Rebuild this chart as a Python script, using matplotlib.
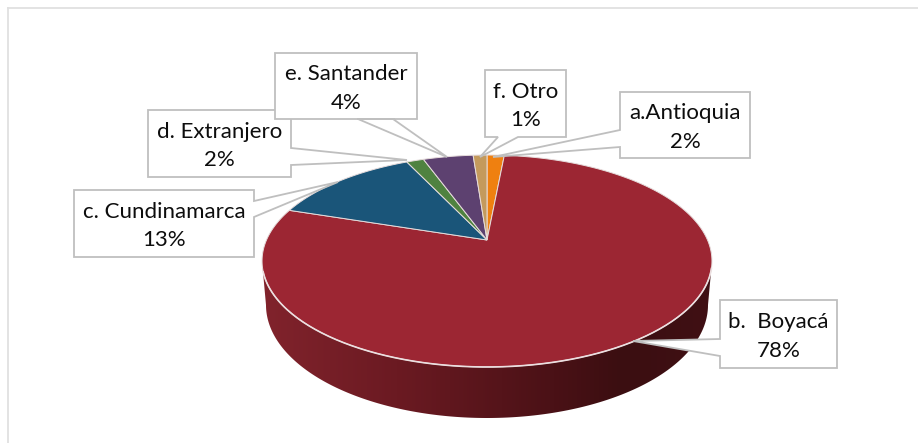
import numpy as np
import matplotlib
matplotlib.use("Agg")
import matplotlib.pyplot as plt
from matplotlib.patches import Polygon
from matplotlib.colors import LinearSegmentedColormap

# Datos
categorias = ["a.Antioquia", "b.  Boyacá", "c. Cundinamarca", "d. Extranjero", "e. Santander", "f. Otro"]
valores = [1.5, 78.5, 12.95, 1.5, 4.35, 1.2]
etiquetas_pct = ["2%", "78%", "13%", "2%", "4%", "1%"]
colores = ["#ef8010", "#9c2633", "#1a5579", "#4f8240", "#5d4170", "#c49a5c"]

plt.rcParams["font.family"] = ["Lato", "DejaVu Sans"]

fig = plt.figure(figsize=(9.18, 4.43), dpi=100)
ax = fig.add_axes([0, 0, 1, 1])
ax.set_xlim(0, 918)
ax.set_ylim(443, 0)
ax.axis("off")

# Marco del grafico
ax.plot([8, 8], [443, 7.5], color="#e0e0e0", lw=1.3, zorder=1)
ax.plot([8, 918], [7.5, 7.5], color="#e0e0e0", lw=1.3, zorder=1)

# Perspectiva de la cara superior
cx, cy = 487, 240
k = 0.198
a = 101.8
rx = 220.5


def proyectar(theta):
    X = np.sin(theta)
    Y = np.cos(theta)
    return cx + rx * X / (1 + k * Y), cy - a * Y / (1 + k * Y)


# Lateral con degradado
t = np.linspace(0, np.pi, 200)
x_sup = 487 + 225 * np.cos(t)
y_sup = 261 + 106 * np.sin(t)
x_inf = 487 + 221 * np.cos(t[::-1])
y_inf = 305 + 113 * np.sin(t[::-1])
lateral = Polygon(np.column_stack([np.r_[x_sup, x_inf], np.r_[y_sup, y_inf]]), fc="none", ec="none", zorder=2)
ax.add_patch(lateral)
cmap = LinearSegmentedColormap.from_list("lado", [(0, "#81232c"), (0.3, "#6b1a22"), (0.65, "#4a1116"),
                                                  (0.8, "#3b0e11"), (1, "#401014")])
img = ax.imshow(np.linspace(0, 1, 256).reshape(1, -1), cmap=cmap, extent=(262, 712, 430, 250), aspect="auto", zorder=2)
img.set_clip_path(lateral)
ax.set_xlim(0, 918)
ax.set_ylim(443, 0)

# Sectores, en sentido horario desde arriba
acum = 0
for valor, color in zip(valores, colores):
    th = np.radians(np.linspace(acum, acum + valor, max(int(valor * 6), 8)) * 3.6)
    xs, ys = proyectar(th)
    pts = np.column_stack([np.r_[cx, xs], np.r_[cy, ys]])
    ax.add_patch(Polygon(pts, fc=color, ec="#e6dcdc", lw=0.7, zorder=3))
    acum += valor

# Brillo del borde inferior
t = np.linspace(np.radians(4), np.radians(174), 200)
ax.plot(487 + 225 * np.cos(t), 261 + 106 * np.sin(t), color="#ecdfe0", lw=1.2, zorder=4)

# Cajas: x0, x1, y0, y1 y punta de la llamada
cajas = [
    (620, 750, 92, 158, [(620, 130), (493, 157), (620, 147)], "left"),
    (720, 837, 300, 368, [(720, 339), (633, 341), (720, 356)], "left"),
    (74, 254, 190, 257, [(254, 201), (338, 182), (254, 217)], "right"),
    (148, 291, 110, 177, [(291, 148), (407, 160), (291, 165)], "right"),
    (275, 417, 53, 119, [(358, 119), (447, 157), (393, 119)], "bottom"),
    (485, 566, 70, 137, [(518, 137), (480, 157), (498, 137)], "bottom"),
]
orden = [2, 3, 4, 5, 0, 1]

for z, i in enumerate(orden):
    x0, x1, y0, y1, punta, lado = cajas[i]
    if lado == "left":
        pts = [(x0, y0), (x1, y0), (x1, y1), (x0, y1)] + punta[::-1]
    elif lado == "right":
        pts = [(x0, y0), (x1, y0)] + punta + [(x1, y1), (x0, y1)]
    else:
        pts = [(x0, y0), (x1, y0), (x1, y1)] + punta + [(x0, y1)]
    ax.add_patch(Polygon(pts, closed=True, fc="white", ec="#bfbfbf", lw=1.3, joinstyle="miter", zorder=5 + z))
    ax.text((x0 + x1) / 2, (y0 + y1) / 2 + 2.5, categorias[i] + "\n" + etiquetas_pct[i], ha="center", va="center",
            fontsize=16, color="#0d0d0d", linespacing=1.55, zorder=5 + z)

fig.savefig("out.png", dpi=100)
